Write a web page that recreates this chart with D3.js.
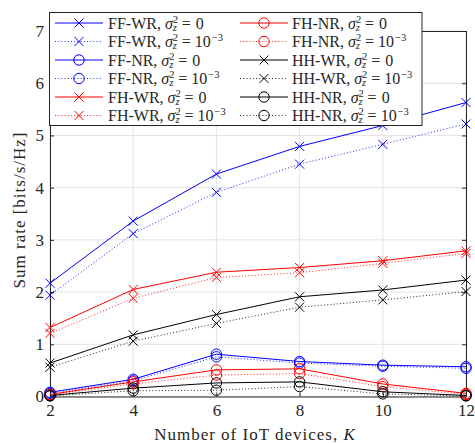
<!DOCTYPE html>
<html>
<head>
<meta charset="utf-8">
<script src="https://cdn.jsdelivr.net/npm/d3@7"></script>
<style>
  html, body { margin: 0; padding: 0; background: #fff; }
  svg { display: block; font-family: "Liberation Serif", "DejaVu Serif", serif; }
  svg text { white-space: pre; }
</style>
</head>
<body>
<svg id="chart" width="475" height="443"></svg>
<script>
// Number of IoT devices
const K = [2, 4, 6, 8, 10, 12];

// Sum rate [bits/s/Hz], noise-free (0) and noisy (1e-3) estimates
const ffWR0  = [2.17, 3.36, 4.26, 4.79, 5.19, 5.63];
const ffWR3  = [1.94, 3.12, 3.91, 4.45, 4.83, 5.22];
const ffNR0  = [0.08, 0.33, 0.81, 0.67, 0.60, 0.57];
const ffNR3  = [0.06, 0.30, 0.76, 0.64, 0.58, 0.54];
const fhWR0  = [1.32, 2.05, 2.38, 2.47, 2.60, 2.79];
const fhWR3  = [1.21, 1.88, 2.28, 2.37, 2.55, 2.74];
const fhNR0  = [0.04, 0.28, 0.51, 0.53, 0.24, 0.06];
const fhNR3  = [0.03, 0.24, 0.41, 0.44, 0.19, 0.04];
const hhWR0  = [0.64, 1.18, 1.57, 1.91, 2.04, 2.23];
const hhWR3  = [0.56, 1.06, 1.40, 1.71, 1.85, 2.01];
const hhNR0  = [0.02, 0.16, 0.26, 0.28, 0.09, 0.02];
const hhNR3  = [0.01, 0.11, 0.12, 0.19, 0.05, 0.01];

const xTicks = [2, 4, 6, 8, 10, 12];
const yTicks = [0, 1, 2, 3, 4, 5, 6, 7];

const series = [
  { name: "FF-WR", noisy: false, color: "#0000ff", marker: "x", values: ffWR0 },
  { name: "FF-WR", noisy: true,  color: "#0000ff", marker: "x", values: ffWR3 },
  { name: "FF-NR", noisy: false, color: "#0000ff", marker: "o", values: ffNR0 },
  { name: "FF-NR", noisy: true,  color: "#0000ff", marker: "o", values: ffNR3 },
  { name: "FH-WR", noisy: false, color: "#ff0000", marker: "x", values: fhWR0 },
  { name: "FH-WR", noisy: true,  color: "#ff0000", marker: "x", values: fhWR3 },
  { name: "FH-NR", noisy: false, color: "#ff0000", marker: "o", values: fhNR0 },
  { name: "FH-NR", noisy: true,  color: "#ff0000", marker: "o", values: fhNR3 },
  { name: "HH-WR", noisy: false, color: "#000000", marker: "x", values: hhWR0 },
  { name: "HH-WR", noisy: true,  color: "#000000", marker: "x", values: hhWR3 },
  { name: "HH-NR", noisy: false, color: "#000000", marker: "o", values: hhNR0 },
  { name: "HH-NR", noisy: true,  color: "#000000", marker: "o", values: hhNR3 }
];

const svg = d3.select("#chart");
const plotL = 50, plotR = 466, plotT = 31, plotB = 396.5;
const axisColor = "#262626";
const fontSize = 16;
const tickFont = 17;

const x = d3.scaleLinear().domain([2, 12]).range([plotL, plotR]);
const y = d3.scaleLinear().domain([0, 7]).range([plotB, plotT]);

// grid
const grid = svg.append("g").attr("stroke", "#e3e3e3").attr("stroke-width", 1);
grid.selectAll("line.gx").data(xTicks).join("line").attr("class", "gx")
  .attr("x1", d => x(d)).attr("x2", d => x(d)).attr("y1", plotT).attr("y2", plotB);
grid.selectAll("line.gy").data(yTicks).join("line").attr("class", "gy")
  .attr("x1", plotL).attr("x2", plotR).attr("y1", d => y(d)).attr("y2", d => y(d));

// axes (ticks pointing inward)
function styleAxis(g) {
  g.select(".domain").attr("stroke", axisColor);
  g.selectAll(".tick line").attr("stroke", axisColor);
  g.selectAll(".tick text").attr("fill", axisColor)
    .attr("font-size", tickFont).attr("font-family", "Liberation Serif, DejaVu Serif, serif");
}
svg.append("g").attr("transform", `translate(0,${plotB})`)
  .call(d3.axisBottom(x).tickValues(xTicks).tickFormat(d3.format("d")).tickSizeInner(-4).tickSizeOuter(0).tickPadding(7))
  .call(styleAxis);
svg.append("g").attr("transform", `translate(${plotL},0)`)
  .call(d3.axisLeft(y).tickValues(yTicks).tickFormat(d3.format("d")).tickSizeInner(-4).tickSizeOuter(0).tickPadding(6))
  .call(styleAxis);
svg.append("g").attr("transform", `translate(0,${plotT})`)
  .call(d3.axisTop(x).tickValues(xTicks).tickFormat("").tickSizeInner(-4).tickSizeOuter(0))
  .call(styleAxis);
svg.append("g").attr("transform", `translate(${plotR},0)`)
  .call(d3.axisRight(y).tickValues(yTicks).tickFormat("").tickSizeInner(-4).tickSizeOuter(0))
  .call(styleAxis);

// axis titles
svg.append("text")
  .attr("x", 255).attr("y", 440)
  .attr("text-anchor", "middle").attr("font-size", 17).attr("letter-spacing", 1)
  .attr("fill", axisColor)
  .call(t => {
    t.append("tspan").text("Number of IoT devices, ");
    t.append("tspan").attr("font-style", "italic").text("K");
  });
svg.append("text")
  .attr("transform", `translate(19,210) rotate(-90)`)
  .attr("text-anchor", "middle").attr("dominant-baseline", "central")
  .attr("font-size", 17).attr("letter-spacing", 1).attr("fill", axisColor)
  .text("Sum rate [bits/s/Hz]");

// markers
function drawMarker(g, m, cx, cy, color) {
  if (m === "x") {
    const s = 4.5;
    g.append("path")
      .attr("d", `M${cx - s},${cy - s}L${cx + s},${cy + s}M${cx - s},${cy + s}L${cx + s},${cy - s}`)
      .attr("stroke", color).attr("stroke-width", 1).attr("fill", "none");
  } else {
    g.append("circle").attr("cx", cx).attr("cy", cy).attr("r", 5.2)
      .attr("stroke", color).attr("stroke-width", 1).attr("fill", "none");
  }
}

const line = d3.line().x((d, i) => x(K[i])).y(d => y(d));
const plot = svg.append("g");
series.forEach(s => {
  const g = plot.append("g");
  g.append("path").attr("d", line(s.values))
    .attr("fill", "none").attr("stroke", s.color).attr("stroke-width", 1)
    .attr("stroke-dasharray", s.noisy ? "1,2.2" : null)
    .attr("opacity", s.noisy ? 0.85 : 1);
  s.values.forEach((v, i) => drawMarker(g, s.marker, x(K[i]), y(v), s.color));
});

// legend
const lg = svg.append("g");
lg.append("rect").attr("x", 49.5).attr("y", 12.5).attr("width", 372.5).attr("height", 113)
  .attr("fill", "#fff").attr("stroke", axisColor).attr("stroke-width", 1);

const rowY = i => 23 + i * 18.5;
const cols = [{ x0: 55, x1: 103, tx: 108 }, { x0: 240, x1: 288, tx: 292 }];

// "NAME, σ_z^2 = value" with stacked super/subscript
function legendLabel(g, tx, ty, s) {
  const t = g.append("text").attr("x", tx).attr("y", ty + 5.5)
    .attr("font-size", fontSize).attr("fill", axisColor);
  t.append("tspan").text(s.name + ", ");
  t.append("tspan").attr("font-style", "italic").text("σ");
  t.append("tspan").attr("font-size", 10.5).attr("dy", -6).text("2");
  t.append("tspan").attr("font-size", 10.5).attr("font-style", "italic")
    .attr("dx", -5.3).attr("dy", 8).text("z");
  t.append("tspan").attr("dx", 5).attr("dy", -2).text("=");
  if (s.noisy) {
    t.append("tspan").attr("dx", 4).text("10");
    t.append("tspan").attr("font-size", 10.5).attr("dx", 1).attr("dy", -6.5).text("−3");
  } else {
    t.append("tspan").attr("dx", 5).text("0");
  }
}

series.forEach((s, i) => {
  const c = cols[Math.floor(i / 6)];
  const ry = rowY(i % 6);
  const g = lg.append("g");
  g.append("line").attr("x1", c.x0).attr("x2", c.x1).attr("y1", ry).attr("y2", ry)
    .attr("stroke", s.color).attr("stroke-width", 1)
    .attr("stroke-dasharray", s.noisy ? "1,2.2" : null)
    .attr("opacity", s.noisy ? 0.85 : 1);
  drawMarker(g, s.marker, (c.x0 + c.x1) / 2, ry, s.color);
  legendLabel(g, c.tx, ry, s);
});
</script>
</body>
</html>
